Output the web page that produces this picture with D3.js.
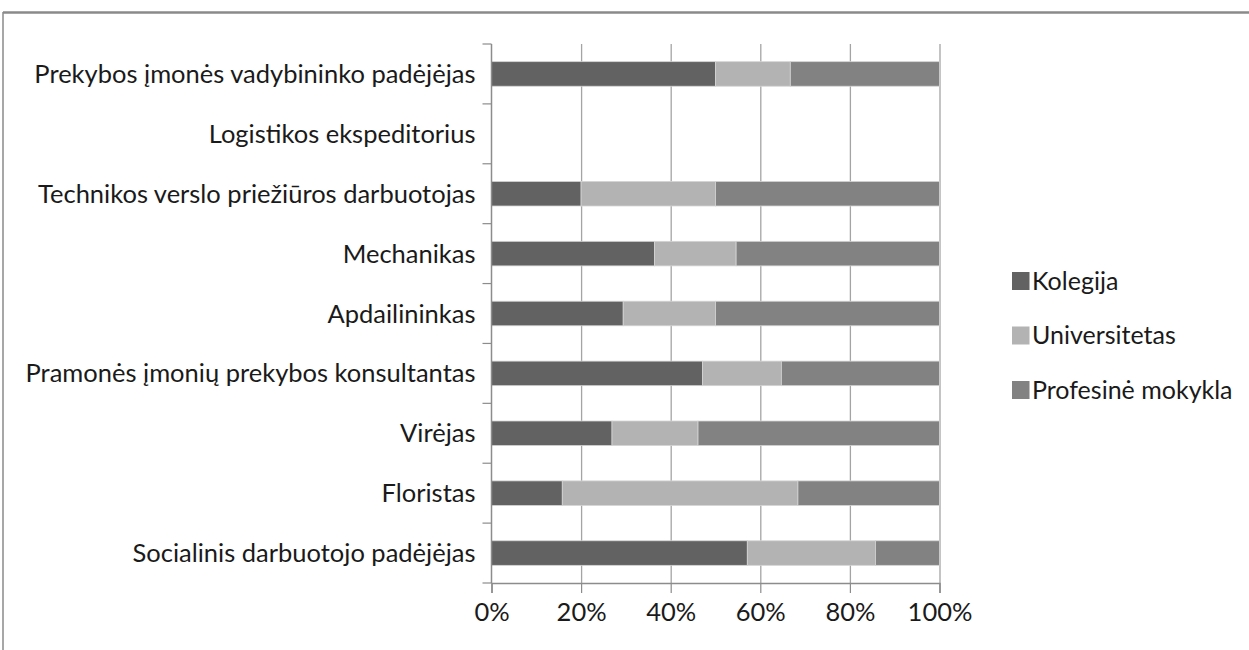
<!DOCTYPE html>
<html lang="lt">
<head>
<meta charset="UTF-8"/>
<title>Stacked bar</title>
<script src="https://d3js.org/d3.v7.min.js"></script>
<style>
	body { margin: 0; background: #fff; }
	text { font-family: Lato, "Open Sans", sans-serif; fill: #1a1a1a; }
</style>
</head>
<body>
<script>

	var w = 1249;
	var h = 650;

	// categories, top to bottom
	var categories = [
		"Prekybos įmonės vadybininko padėjėjas",
		"Logistikos ekspeditorius",
		"Technikos verslo priežiūros darbuotojas",
		"Mechanikas",
		"Apdailininkas",
		"Pramonės įmonių prekybos konsultantas",
		"Virėjas",
		"Floristas",
		"Socialinis darbuotojo padėjėjas"
	];

	var seriesNames = ["Kolegija", "Universitetas", "Profesinė mokykla"];
	var seriesColors = ["#626262", "#b3b3b3", "#828282"];

	// shares in percent
	var kolegija      = [50.0, 0, 20.0, 36.4, 29.4, 47.1, 26.9, 15.8, 57.1];
	var universitetas = [16.7, 0, 30.0, 18.2, 20.6, 17.6, 19.2, 52.6, 28.6];
	var profesine     = [33.3, 0, 50.0, 45.4, 50.0, 35.3, 53.9, 31.6, 14.3];

	var xTicks = [0, 0.2, 0.4, 0.6, 0.8, 1];

	var rows = categories.map(function(c, i){
		var tot = kolegija[i] + universitetas[i] + profesine[i];
		var r = { cat: c };
		r[seriesNames[0]] = tot ? kolegija[i] / tot : 0;
		r[seriesNames[1]] = tot ? universitetas[i] / tot : 0;
		r[seriesNames[2]] = tot ? profesine[i] / tot : 0;
		return r;
	});

	var pLeft = 491.5, pRight = 939.5, pTop = 44, pBottom = 583;
	var fs = 25;
	var sx = 1.02; // horizontal scale of all text

	var svg = d3.select("body").append("svg")
		.attr("width", w)
		.attr("height", h);

	// frame
	svg.append("line").attr("x1", 3).attr("x2", w).attr("y1", 12.5).attr("y2", 12.5)
		.attr("stroke", "#8a8a8a").attr("stroke-width", 2.5);
	svg.append("line").attr("x1", 3).attr("x2", 3).attr("y1", 12).attr("y2", h)
		.attr("stroke", "#8a8a8a").attr("stroke-width", 1.5);

	var xScale = d3.scaleLinear().domain([0, 1]).range([pLeft, pRight]);
	var yScale = d3.scaleBand().domain(categories).range([pTop, pBottom])
		.paddingInner(0.59).paddingOuter(0.295);

	// gridlines
	svg.append("g")
		.attr("transform", "translate(0," + pBottom + ")")
		.call(d3.axisBottom(xScale).tickValues(xTicks.slice(1)).tickSize(-(pBottom - pTop)).tickFormat(""))
		.call(function(g){
			g.select(".domain").remove();
			g.selectAll("line").attr("stroke", "#a4a4a4").attr("stroke-width", 1.3);
		});

	// bars
	var stacked = d3.stack().keys(seriesNames)(rows);
	svg.selectAll("g.series")
		.data(stacked)
		.enter()
		.append("g")
		.attr("class", "series")
		.attr("fill", function(d, i){ return seriesColors[i]; })
		.selectAll("rect")
		.data(function(d){ return d; })
		.enter()
		.append("rect")
		.attr("x", function(d){ return xScale(d[0]); })
		.attr("width", function(d){ return xScale(d[1]) - xScale(d[0]); })
		.attr("y", function(d){ return yScale(d.data.cat); })
		.attr("height", yScale.bandwidth())
		.attr("stroke", "#d4d4d4")
		.attr("stroke-width", function(d){ return d[1] > d[0] ? 0.8 : 0; });

	// x axis
	svg.append("g")
		.attr("transform", "translate(0," + pBottom + ")")
		.call(d3.axisBottom(xScale).tickValues(xTicks).tickSize(10)
			.tickFormat(d3.format(".0%")))
		.call(function(g){
			g.select(".domain").attr("stroke", "#8c8c8c").attr("stroke-width", 1.5);
			g.selectAll("line").attr("stroke", "#8c8c8c").attr("stroke-width", 1.2);
			g.selectAll("text")
				.attr("font-size", fs)
				.attr("fill", "#1a1a1a")
				.attr("y", 0)
				.attr("dy", 0)
				.attr("transform", "translate(0,38) scale(" + sx + ",1)");
		});

	// y axis
	var off = (yScale.step() - yScale.bandwidth()) / 2;
	var bounds = categories.map(function(c){ return yScale(c) - off; }).concat([pBottom]);
	var yAxis = svg.append("g");
	yAxis.append("line").attr("x1", pLeft).attr("x2", pLeft).attr("y1", pTop).attr("y2", pBottom)
		.attr("stroke", "#8c8c8c").attr("stroke-width", 1.5);
	yAxis.selectAll("line.tick")
		.data(bounds)
		.enter()
		.append("line")
		.attr("class", "tick")
		.attr("x1", pLeft - 9).attr("x2", pLeft)
		.attr("y1", function(d){ return d; }).attr("y2", function(d){ return d; })
		.attr("stroke", "#8c8c8c").attr("stroke-width", 1.2);

	yAxis.selectAll("text")
		.data(categories)
		.enter()
		.append("text")
		.attr("text-anchor", "end")
		.attr("font-size", fs)
		.attr("transform", function(d){
			return "translate(" + (pLeft - 16) + "," + (yScale(d) + yScale.bandwidth() / 2 + 9) + ") scale(" + sx + ",1)";
		})
		.text(function(d){ return d; });

	// legend
	var legend = svg.append("g").attr("transform", "translate(1012,272)");
	var item = legend.selectAll("g")
		.data(seriesNames)
		.enter()
		.append("g")
		.attr("transform", function(d, i){ return "translate(0," + (i * 54.5) + ")"; });
	item.append("rect")
		.attr("width", 17.5).attr("height", 18)
		.attr("fill", function(d, i){ return seriesColors[i]; });
	item.append("text")
		.attr("font-size", fs)
		.attr("transform", "translate(20,17.5) scale(1,1)")
		.text(function(d){ return d; });

</script>
</body>
</html>
